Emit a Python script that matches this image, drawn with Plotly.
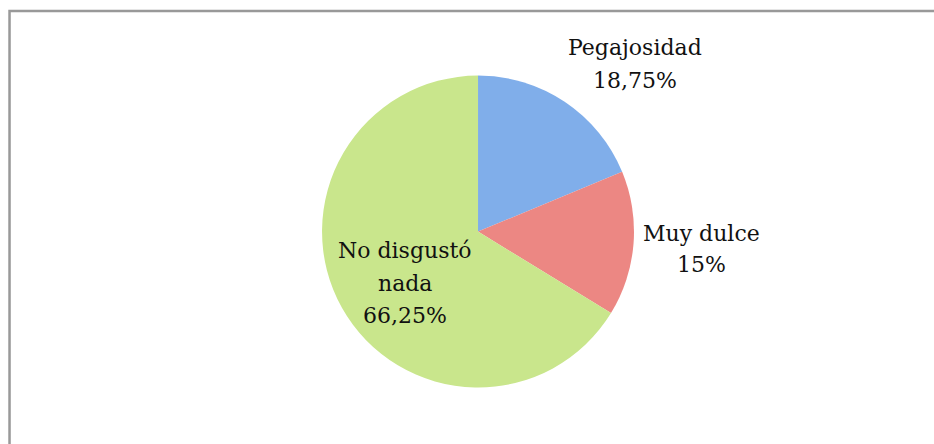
import plotly.graph_objects as go

# data
categories = ["Pegajosidad", "Muy dulce", "No disgustó nada"]
values = [18.75, 15, 66.25]
colors = ["#80aeea", "#ec8783", "#c9e68c"]

pct_text = [f"{v:g}%".replace(".", ",") for v in values]

label_font = {"family": "DejaVu Serif", "size": 22, "color": "#111111"}

fig = go.Figure(
    go.Pie(
        labels=categories,
        values=values,
        textinfo="none",
        sort=False,
        direction="clockwise",
        rotation=0,
        marker={"colors": colors, "line": {"width": 0}},
        domain={"x": [0.3448, 0.6788], "y": [0.126, 0.831]},
        hoverinfo="label+percent",
        showlegend=False,
    )
)

# label lines per slice (name split where the reference wraps it, then percent)
label_lines = [
    [categories[0], pct_text[0]],
    [categories[1], pct_text[1]],
    ["No disgustó", "nada", pct_text[2]],
]
label_x = [0.6799, 0.7516, 0.4336]
label_y = [[0.8919, 0.8198], [0.4752, 0.4054], [0.4347, 0.3604, 0.2905]]

for lines, x, ys in zip(label_lines, label_x, label_y):
    for line, y in zip(lines, ys):
        fig.add_annotation(
            x=x, y=y, xref="paper", yref="paper",
            text=line, showarrow=False,
            xanchor="center", yanchor="middle",
            font=label_font,
        )

fig.update_layout(
    width=934,
    height=444,
    margin={"l": 0, "r": 0, "t": 0, "b": 0},
    paper_bgcolor="white",
    plot_bgcolor="white",
    shapes=[
        {
            "type": "rect",
            "xref": "paper",
            "yref": "paper",
            "x0": 0.0102,
            "x1": 1.01,
            "y0": -0.01,
            "y1": 0.975,
            "line": {"color": "#999999", "width": 2.5},
        }
    ],
)

fig.write_html(
    "out.html",
    config={"displayModeBar": False},
    post_script="document.body.style.margin = '0';",
)
